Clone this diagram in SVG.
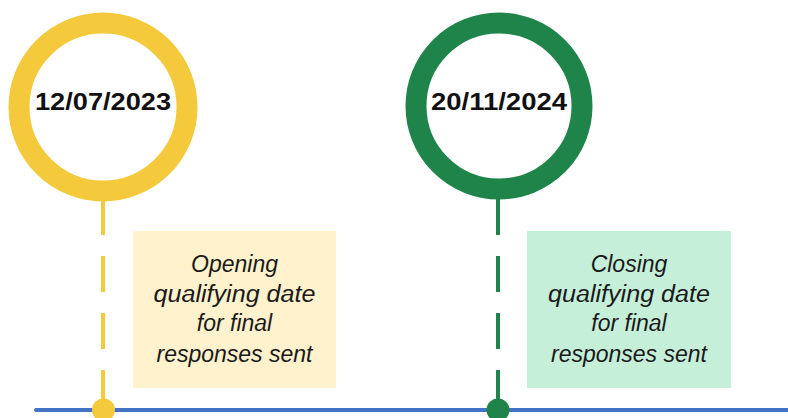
<svg xmlns="http://www.w3.org/2000/svg" width="788" height="418" viewBox="0 0 788 418">
  <style>
    .date { font-family: "Liberation Sans", Arial, sans-serif; font-weight: bold; font-size: 24px; fill: #111; text-anchor: middle; }
    .lbl { font-family: "Liberation Sans", Arial, sans-serif; font-style: italic; font-size: 23px; fill: #1a1a1a; text-anchor: middle; }
    .ring { fill: #ffffff; stroke-width: 21; }
    .stem { fill: none; stroke-width: 4; stroke-dasharray: 36 21; }
  </style>
  <rect width="788" height="418" fill="#ffffff"/>
  <g id="connectors">
    <line x1="36" y1="410" x2="790" y2="410" stroke="#4472C4" stroke-width="4" stroke-linecap="round"/>
    <line class="stem" x1="103" y1="199" x2="103" y2="410" stroke="#F4C93C"/>
    <line class="stem" x1="498" y1="199" x2="498" y2="410" stroke="#1E8449"/>
  </g>
  <g id="node-opening-date">
    <circle class="ring" cx="103" cy="107" r="84" stroke="#F4C93C"/>
    <text class="date" x="103" y="110" textLength="136" lengthAdjust="spacingAndGlyphs">12/07/2023</text>
  </g>
  <g id="node-closing-date">
    <circle class="ring" cx="499" cy="106" r="83" stroke="#1E8449"/>
    <text class="date" x="499" y="110" textLength="136" lengthAdjust="spacingAndGlyphs">20/11/2024</text>
  </g>
  <g id="node-opening-dot">
    <circle cx="103.5" cy="410" r="11.5" fill="#F4C93C"/>
  </g>
  <g id="node-closing-dot">
    <circle cx="498" cy="410" r="11.5" fill="#1E8449"/>
  </g>
  <g id="node-opening-label">
    <rect x="133" y="231" width="203" height="157" fill="#FFF2CC"/>
    <text class="lbl" x="234.5" y="272">Opening</text>
    <text class="lbl" x="234.5" y="302" textLength="162" lengthAdjust="spacingAndGlyphs">qualifying date</text>
    <text class="lbl" x="234.5" y="331">for final</text>
    <text class="lbl" x="234.5" y="362">responses sent</text>
  </g>
  <g id="node-closing-label">
    <rect x="527" y="231" width="204" height="157" fill="#C6EFDA"/>
    <text class="lbl" x="629" y="272">Closing</text>
    <text class="lbl" x="629" y="302" textLength="162" lengthAdjust="spacingAndGlyphs">qualifying date</text>
    <text class="lbl" x="629" y="331">for final</text>
    <text class="lbl" x="629" y="362">responses sent</text>
  </g>
</svg>
